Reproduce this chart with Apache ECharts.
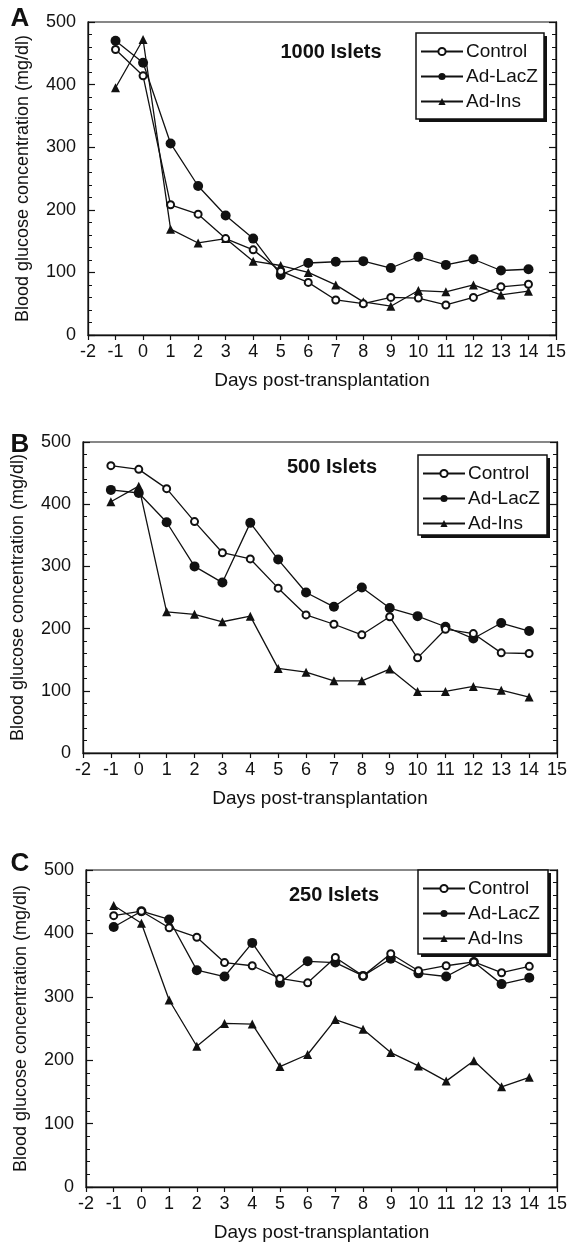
<!DOCTYPE html>
<html>
<head>
<meta charset="utf-8">
<script src="https://cdn.jsdelivr.net/npm/echarts@6/dist/echarts.min.js"></script>
<style>
  html, body { margin: 0; padding: 0; background: #fff; }
  #main { width: 570px; height: 1243px; }
</style>
</head>
<body>
<div id="main"></div>
<script>
// days post-transplantation
var days = [-1, 0, 1, 2, 3, 4, 5, 6, 7, 8, 9, 10, 11, 12, 13, 14];
var seriesNames = ['Control', 'Ad-LacZ', 'Ad-Ins'];
var panelTitles = ['1000 Islets', '500 Islets', '250 Islets'];
var panelLetters = ['A', 'B', 'C'];

// A: 1000 islets
var aControl = [456, 414, 208, 193, 154, 136, 102, 84, 56, 50, 60, 59, 48, 60, 77, 81];
var aLacZ = [470, 435, 306, 238, 191, 154, 96, 115, 117, 118, 107, 125, 112, 121, 103, 105];
var aIns = [395, 472, 169, 147, 154, 118, 111, 100, 80, 53, 46, 71, 69, 80, 64, 70];
// B: 500 islets
var bControl = [462, 456, 425, 372, 322, 312, 265, 222, 207, 190, 219, 153, 199, 192, 161, 160];
var bLacZ = [423, 418, 371, 300, 274, 370, 311, 258, 235, 266, 233, 220, 203, 184, 209, 196];
var bIns = [404, 429, 227, 223, 211, 220, 136, 130, 116, 116, 135, 99, 99, 107, 101, 90];
// C: 250 islets
var cControl = [428, 435, 409, 394, 354, 349, 329, 322, 362, 333, 368, 341, 349, 355, 338, 348];
var cLacZ = [410, 435, 422, 342, 332, 385, 322, 356, 354, 333, 360, 337, 332, 355, 320, 330];
var cIns = [444, 416, 295, 222, 258, 257, 190, 209, 264, 249, 212, 191, 167, 199, 158, 173];

var panelData = [
  [aControl, aLacZ, aIns],
  [bControl, bLacZ, bIns],
  [cControl, cLacZ, cIns]
];

var font = 'Liberation Sans, Arial, Helvetica, sans-serif';
var ink = '#111';
var symbols = ['emptyCircle', 'circle', 'triangle'];
var symbolSizes = [7, 10, 9];

var grids = [
  { left: 88, top: 22, width: 468, height: 313 },
  { left: 83, top: 442, width: 475, height: 311 },
  { left: 86, top: 870, width: 473, height: 317 }
];
// legend frames [x, y, w, h]
var legendBox = [[416, 33, 128, 86], [418, 455, 129, 80], [418, 870, 130, 84]];
var titlePos = [[331, 52], [332, 467], [334, 895]];
var letterPos = [[20, 19], [20, 445], [20, 864]];

function toPoints(vals) {
  var pts = [];
  for (var i = 0; i < days.length; i++) pts.push([days[i], vals[i]]);
  return pts;
}

var option = {
  backgroundColor: '#fff',
  animation: false,
  textStyle: { fontFamily: font, color: ink },
  grid: [],
  xAxis: [],
  yAxis: [],
  legend: [],
  series: [],
  graphic: []
};

for (var p = 0; p < 3; p++) {
  option.grid.push(Object.assign({
    show: true, borderColor: ink, borderWidth: 1.2, backgroundColor: 'transparent'
  }, grids[p]));

  option.xAxis.push({
    type: 'value', gridIndex: p, min: -2, max: 15, interval: 1,
    name: 'Days post-transplantation', nameLocation: 'middle', nameGap: 36,
    nameTextStyle: { fontSize: 19, color: ink, fontFamily: font },
    axisLine: { onZero: false, lineStyle: { color: ink, width: 1.3 } },
    axisTick: { inside: false, length: 5, lineStyle: { color: ink, width: 1.2 } },
    axisLabel: { fontSize: 18, color: ink, margin: 8, fontFamily: font },
    splitLine: { show: false }
  });

  // left axis with labels
  option.yAxis.push({
    type: 'value', gridIndex: p, min: 0, max: 500, interval: 100,
    name: 'Blood glucose concentration (mg/dl)', nameLocation: 'middle', nameGap: 56,
    nameTextStyle: { fontSize: 18, color: ink, fontFamily: font },
    axisLine: { show: true, onZero: false, lineStyle: { color: ink, width: 1.3 } },
    axisTick: { inside: true, length: 7, lineStyle: { color: ink, width: 1.2 } },
    minorTick: { show: true, splitNumber: 5, length: 4, lineStyle: { color: ink, width: 1 } },
    axisLabel: { fontSize: 18, color: ink, margin: 12, fontFamily: font },
    splitLine: { show: false }
  });
  // right axis, ticks only
  option.yAxis.push({
    type: 'value', gridIndex: p, position: 'right', min: 0, max: 500, interval: 100,
    axisLine: { show: true, onZero: false, lineStyle: { color: ink, width: 1.3 } },
    axisTick: { inside: true, length: 7, lineStyle: { color: ink, width: 1.2 } },
    minorTick: { show: true, splitNumber: 5, length: 4, lineStyle: { color: ink, width: 1 } },
    axisLabel: { show: false },
    splitLine: { show: false }
  });

  var lb = legendBox[p];
  option.legend.push({
    z: 20,
    orient: 'vertical', left: lb[0] + 4, top: lb[1] + 9,
    data: seriesNames,
    itemWidth: 42, itemHeight: 9, itemGap: 6,
    padding: 0,
    textStyle: { fontSize: 19, color: ink, fontFamily: font, padding: [0, 0, 0, -2] },
    selectedMode: false
  });

  for (var s = 0; s < 3; s++) {
    option.series.push({
      name: seriesNames[s], type: 'line',
      xAxisIndex: p, yAxisIndex: p * 2,
      data: toPoints(panelData[p][s]),
      symbol: symbols[s], symbolSize: symbolSizes[s],
      showAllSymbol: true,
      lineStyle: { color: ink, width: 1.3 },
      itemStyle: { color: ink, borderWidth: s === 0 ? 1.5 : 0 },
      emphasis: { disabled: true },
      z: 3 - s
    });
  }

  // legend frame with heavy drop shadow, drawn under the legend
  option.graphic.push({
    type: 'rect', z: 1, silent: true,
    shape: { x: lb[0] + 3, y: lb[1] + 3, width: lb[2], height: lb[3] },
    style: { fill: ink }
  });
  option.graphic.push({
    type: 'rect', z: 2, silent: true,
    shape: { x: lb[0], y: lb[1], width: lb[2], height: lb[3] },
    style: { fill: '#fff', stroke: ink, lineWidth: 1.5 }
  });

  option.graphic.push({
    type: 'text', x: titlePos[p][0], y: titlePos[p][1],
    style: { text: panelTitles[p], font: 'bold 20px ' + font, fill: ink, textAlign: 'center', textVerticalAlign: 'middle' }
  });
  option.graphic.push({
    type: 'text', x: letterPos[p][0], y: letterPos[p][1],
    style: { text: panelLetters[p], font: 'bold 26px ' + font, fill: ink, textAlign: 'center', textVerticalAlign: 'middle' }
  });
}

var chart = echarts.init(document.getElementById('main'));
chart.setOption(option);
</script>
</body>
</html>
